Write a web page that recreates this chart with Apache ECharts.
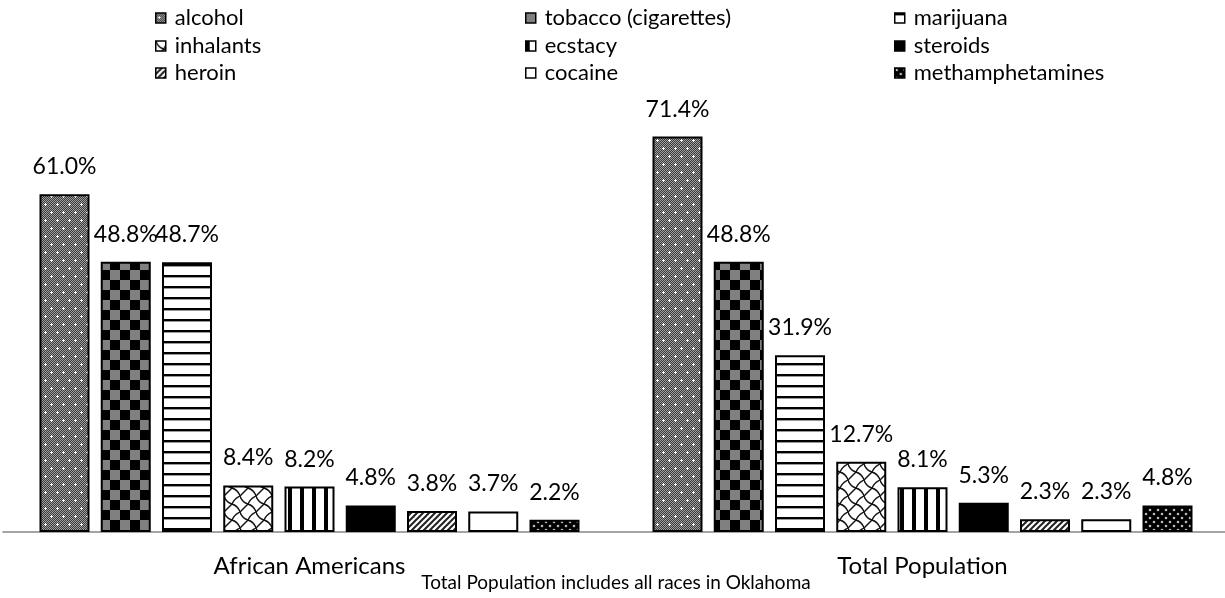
<!DOCTYPE html>
<html><head><meta charset="utf-8">
<script src="https://cdn.jsdelivr.net/npm/echarts@6/dist/echarts.min.js"></script>
<style>html,body{margin:0;padding:0;background:#fff}#c{width:1225px;height:598px}</style>
</head><body><div id="c"></div>
<script>
const categories = ['African Americans', 'Total Population'];
const seriesNames = ['alcohol', 'tobacco (cigarettes)', 'marijuana', 'inhalants', 'ecstacy', 'steroids', 'heroin', 'cocaine', 'methamphetamines'];
const alcohol = [61.0, 71.4];
const tobacco = [48.8, 48.8];
const marijuana = [48.7, 31.9];
const inhalants = [8.4, 12.7];
const ecstacy = [8.2, 8.1];
const steroids = [4.8, 5.3];
const heroin = [3.8, 2.3];
const cocaine = [3.7, 2.3];
const methamphetamines = [2.2, 4.8];
const subtitle = 'Total Population includes all races in Oklahoma';
const seriesValues = [alcohol, tobacco, marijuana, inhalants, ecstacy, steroids, heroin, cocaine, methamphetamines];

function tile(w, h, draw) {
  const c = document.createElement('canvas'); c.width = w; c.height = h;
  const g = c.getContext('2d'); draw(g, w, h);
  return { image: c, repeat: 'repeat' };
}
function plus(g, x, y) { g.fillRect(x - 1, y, 3, 1); g.fillRect(x, y - 1, 1, 3); }
const fills = [
  tile(12, 16, (g) => { // alcohol
    for (let y = 0; y < 16; y++) for (let x = 0; x < 12; x++) { g.fillStyle = ((x + y) % 2) ? '#3a3a3a' : '#a0a0a0'; g.fillRect(x, y, 1, 1); }
    g.fillStyle = '#fff'; plus(g, 3, 4); plus(g, 9, 12);
  }),
  tile(20, 20, (g) => { // tobacco
    g.fillStyle = '#000'; g.fillRect(0, 0, 20, 20);
    g.fillStyle = '#808080'; g.fillRect(0, 0, 10, 10); g.fillRect(10, 10, 10, 10);
  }),
  tile(1, 11, (g) => { // marijuana
    g.fillStyle = '#fff'; g.fillRect(0, 0, 1, 11);
    g.fillStyle = '#000'; g.fillRect(0, 0, 1, 2);
    g.fillStyle = '#999'; g.fillRect(0, 2, 1, 1);
  }),
  tile(16, 16, (g) => { // inhalants
    g.fillStyle = '#fff'; g.fillRect(0, 0, 16, 16);
    g.strokeStyle = '#111'; g.lineWidth = 1.4;
    g.beginPath(); g.moveTo(0, 0); g.quadraticCurveTo(2, 6, 8, 8); g.quadraticCurveTo(14, 10, 16, 16); g.stroke();
    g.beginPath(); g.moveTo(8, 8); g.quadraticCurveTo(10, 3, 16, 0); g.stroke();
    g.beginPath(); g.moveTo(0, 16); g.quadraticCurveTo(4, 12, 8, 8); g.stroke();
  }),
  tile(12, 1, (g) => { // ecstacy
    g.fillStyle = '#fff'; g.fillRect(0, 0, 12, 1);
    g.fillStyle = '#000'; g.fillRect(0, 0, 4, 1);
  }),
  '#000', // steroids
  tile(6, 6, (g) => { // heroin
    g.fillStyle = '#fff'; g.fillRect(0, 0, 6, 6);
    g.strokeStyle = '#222'; g.lineWidth = 2;
    g.beginPath(); g.moveTo(-1, 7); g.lineTo(7, -1); g.stroke();
    g.beginPath(); g.moveTo(-4, 4); g.lineTo(4, -4); g.stroke();
    g.beginPath(); g.moveTo(2, 10); g.lineTo(10, 2); g.stroke();
  }),
  '#fff', // cocaine
  tile(8, 8, (g) => { // methamphetamines
    g.fillStyle = '#000'; g.fillRect(0, 0, 8, 8);
    g.fillStyle = '#bbb';
    g.beginPath(); g.arc(2, 2, 1.3, 0, 2 * Math.PI); g.fill();
    g.beginPath(); g.arc(6, 6, 1.3, 0, 2 * Math.PI); g.fill();
  })
];

const legendLeft = [155, 525, 894];
const legendRowCenter = [18, 46, 73];
const FONT = 'Lato';

const chart = echarts.init(document.getElementById('c'), null, { renderer: 'canvas' });
chart.setOption({
  animation: false,
  backgroundColor: '#fff',
  legend: seriesNames.map((n, i) => ({
    data: [n], selectedMode: false, padding: 0,
    left: legendLeft[i % 3], top: legendRowCenter[Math.floor(i / 3)] - 12,
    itemWidth: 10, itemHeight: 10, icon: 'rect',
    itemStyle: { borderColor: '#000', borderWidth: 1.5 },
    textStyle: { fontFamily: FONT, fontSize: 22, color: '#000', lineHeight: 24, padding: [0, 0, 0, 4] }
  })),
  grid: { left: 3, right: -4, top: 89, bottom: 66, containLabel: false, outerBoundsMode: 'none' },
  xAxis: {
    type: 'category', data: categories,
    axisTick: { show: false },
    axisLine: { lineStyle: { color: '#868686', width: 1.5 } },
    axisLabel: { fontFamily: FONT, fontSize: 24, color: '#000', margin: 22 },
    name: subtitle, nameLocation: 'middle', nameGap: 41, nameMoveOverlap: false,
    nameTextStyle: { fontFamily: FONT, fontSize: 19, color: '#000' }
  },
  yAxis: { type: 'value', min: 0, max: 80, show: false, splitLine: { show: false } },
  series: seriesNames.map((n, i) => ({
    name: n, type: 'bar', data: seriesValues[i],
    barWidth: 50, barGap: '22.5%',
    itemStyle: { color: fills[i], borderColor: '#000', borderWidth: 2 },
    label: {
      show: true, position: 'top', distance: 16,
      fontFamily: FONT, fontSize: 23, color: '#000',
      formatter: (p) => p.value.toFixed(1) + '%'
    }
  }))
});
</script></body></html>
